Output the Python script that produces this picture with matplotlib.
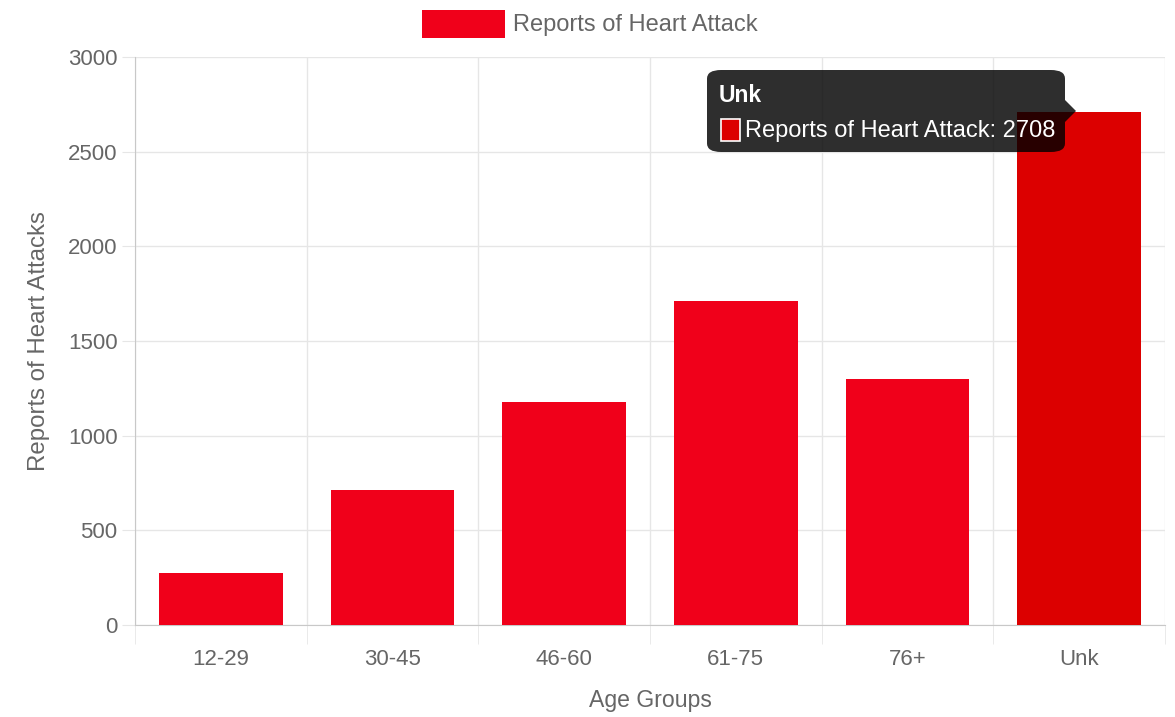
import numpy as np
import matplotlib
matplotlib.use('Agg')
import matplotlib.pyplot as plt
from matplotlib.patches import FancyBboxPatch, Rectangle, Polygon

# data
age_groups = ['12-29', '30-45', '46-60', '61-75', '76+', 'Unk']
reports = [275, 713, 1178, 1711, 1300, 2708]
series_name = 'Reports of Heart Attack'
hover_idx = 5

W, H = 1175, 717
red = '#f0001a'
red_hover = '#dc0000'
txt = '#666666'
grid_c = '#e6e6e6'

plt.rcParams['font.family'] = ['Liberation Sans', 'DejaVu Sans']

fig = plt.figure(figsize=(W / 100, H / 100), dpi=100)
ax = fig.add_axes([135 / W, 1 - 625 / H, (1165 - 135) / W, (625 - 57) / H])


def fx(px):
    return px / W


def fy(py):
    return 1 - py / H


x = np.arange(len(age_groups))
colors = [red_hover if i == hover_idx else red for i in range(len(age_groups))]
ax.bar(x, reports, width=0.72, color=colors, zorder=3)

ax.set_xlim(-0.5, len(age_groups) - 0.5)
ax.set_ylim(0, 3000)
ax.set_yticks(np.arange(0, 3001, 500))
ax.set_xticks(x)
ax.set_xticklabels(age_groups)
ax.set_xticks(np.arange(-0.5, len(age_groups)), minor=True)

ax.grid(axis='y', which='major', color=grid_c, linewidth=1, zorder=0)
ax.grid(axis='x', which='minor', color=grid_c, linewidth=1, zorder=0)
ax.tick_params(axis='y', length=9.5, color=grid_c, labelcolor=txt, labelsize=16, pad=3)
ax.tick_params(axis='x', which='major', length=0, labelcolor=txt, labelsize=16, pad=17)
ax.tick_params(axis='x', which='minor', length=14, color=grid_c)

for s in ['top', 'right']:
    ax.spines[s].set_visible(False)
ax.spines['left'].set_color('#c8c8c8')
ax.spines['bottom'].set_color('#c8c8c8')

ax.set_xlabel('Age Groups', color=txt, fontsize=16.6, labelpad=14)
ax.set_ylabel('Reports of Heart Attacks', color=txt, fontsize=17.3, labelpad=13)

# legend
fig.patches.append(Rectangle((fx(422), fy(38)), fx(83), 28 / H, transform=fig.transFigure,
                             facecolor=red, edgecolor='none'))
fig.text(fx(513), fy(25), series_name, color=txt, fontsize=17, va='center', ha='left')

# tooltip
tip = FancyBboxPatch((fx(707), fy(152)), fx(1065 - 707), (152 - 70) / H,
                     boxstyle='round,pad=0,rounding_size=0.012', transform=fig.transFigure,
                     facecolor='black', edgecolor='none', alpha=0.82, zorder=10)
fig.patches.append(tip)
fig.patches.append(Polygon([(fx(1065), fy(100)), (fx(1076), fy(111)), (fx(1065), fy(122))],
                           closed=True, transform=fig.transFigure, facecolor='black',
                           edgecolor='none', alpha=0.82, zorder=10))
fig.text(fx(719), fy(96), age_groups[hover_idx], color='white', fontsize=16.5,
         fontweight='bold', va='center', ha='left', zorder=11)
fig.patches.append(Rectangle((fx(721), fy(141)), fx(19), 22 / H, transform=fig.transFigure,
                             facecolor=red_hover, edgecolor='white', linewidth=1.2, zorder=11))
fig.text(fx(745), fy(131), f'{series_name}: {reports[hover_idx]}', color='white',
         fontsize=17, va='center', ha='left', zorder=11)

fig.savefig('out.png', dpi=100)
